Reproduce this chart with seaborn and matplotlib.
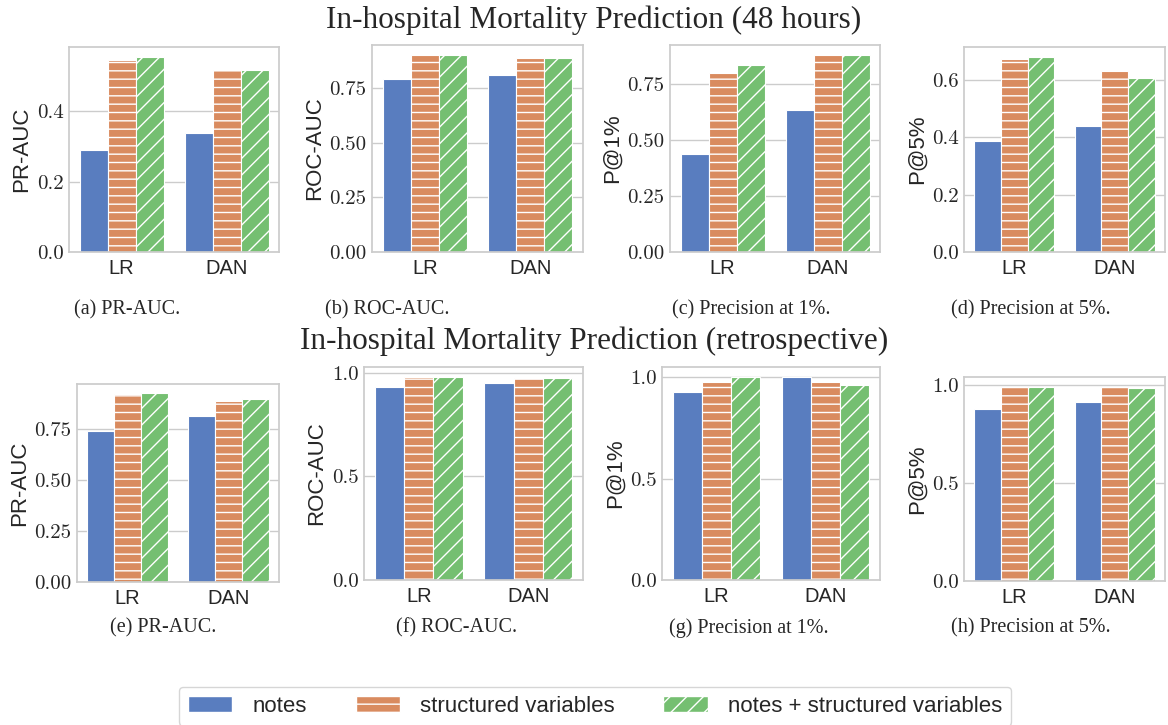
import numpy as np
import pandas as pd
import matplotlib
matplotlib.use('Agg')
import matplotlib.pyplot as plt
from matplotlib.patches import Patch
import seaborn as sns

models = ['LR', 'DAN']
feature_sets = ['notes', 'structured variables', 'notes + structured variables']
hatches = ['', '--', '//']

# values per feature set: [LR, DAN]
pr_auc_48 = [[0.289, 0.337], [0.545, 0.516], [0.555, 0.516]]
roc_auc_48 = [[0.790, 0.808], [0.902, 0.887], [0.902, 0.887]]
p1_48 = [[0.437, 0.632], [0.799, 0.878], [0.833, 0.878]]
p5_48 = [[0.388, 0.440], [0.673, 0.633], [0.682, 0.608]]

pr_auc_retro = [[0.743, 0.814], [0.921, 0.890], [0.926, 0.901]]
roc_auc_retro = [[0.932, 0.950], [0.979, 0.973], [0.979, 0.974]]
p1_retro = [[0.929, 1.000], [0.975, 0.975], [1.000, 0.959]]
p5_retro = [[0.878, 0.915], [0.991, 0.988], [0.991, 0.985]]

row_titles = ['In-hospital Mortality Prediction (48 hours)',
              'In-hospital Mortality Prediction (retrospective)']
ylabels = ['PR-AUC', 'ROC-AUC', 'P@1%', 'P@5%']
captions = ['(a) PR-AUC.', '(b) ROC-AUC.', '(c) Precision at 1%.', '(d) Precision at 5%.',
            '(e) PR-AUC.', '(f) ROC-AUC.', '(g) Precision at 1%.', '(h) Precision at 5%.']
yticks = [[0, 0.2, 0.4], [0, 0.25, 0.5, 0.75], [0, 0.25, 0.5, 0.75], [0, 0.2, 0.4, 0.6],
          [0, 0.25, 0.5, 0.75], [0, 0.5, 1.0], [0, 0.5, 1.0], [0, 0.5, 1.0]]
panels = [pr_auc_48, roc_auc_48, p1_48, p5_48, pr_auc_retro, roc_auc_retro, p1_retro, p5_retro]

sns.set_theme(style='whitegrid', palette='muted')
plt.rcParams['font.family'] = ['Liberation Sans', 'DejaVu Sans']

W, H = 1168, 725
fig = plt.figure(figsize=(W / 100, H / 100), dpi=100)

# axes boxes in pixels: left, top, right, bottom
boxes = [(69, 47, 279, 252), (372, 45, 583, 252), (670, 45, 880, 252), (964, 47, 1165, 252),
         (77, 384, 279, 582), (364, 367, 583, 580), (662, 367, 880, 580), (964, 377, 1165, 581)]
caption_x = [127, 387, 751, 1031, 163, 457, 749, 1031]
caption_y = [310, 310, 310, 310, 628, 628, 628, 628]

colors = [sns.desaturate(c, 0.75) for c in sns.color_palette('muted', 3)]

for i, (vals, box) in enumerate(zip(panels, boxes)):
    l, t, r, b = box
    ax = fig.add_axes([l / W, 1 - b / H, (r - l) / W, (b - t) / H])
    rows = []
    for fs, v in zip(feature_sets, vals):
        for m, x in zip(models, v):
            rows.append({'model': m, 'features': fs, 'value': x})
    df = pd.DataFrame(rows)
    sns.barplot(data=df, x='model', y='value', hue='features', hue_order=feature_sets,
                order=models, palette='muted', ax=ax, legend=False,
                edgecolor='white', linewidth=0.8)
    for cont, h in zip(ax.containers, hatches):
        for p in cont:
            p.set_hatch(h)
    ax.set_xlabel('')
    ax.set_ylabel(ylabels[i % 4], fontsize=16, labelpad=3)
    ax.set_yticks(yticks[i])
    ax.tick_params(axis='both', length=0)
    ax.tick_params(axis='x', labelsize=14.5, pad=5)
    ax.tick_params(axis='y', pad=4)
    for lab in ax.get_yticklabels():
        lab.set_fontfamily('cmr10')
        lab.set_fontsize(15)
    fig.text(caption_x[i] / W, 1 - caption_y[i] / H, captions[i], ha='center', va='center',
             fontsize=14.5, family='Liberation Serif')

fig.text(594 / W, 1 - 20 / H, row_titles[0], ha='center', va='center',
         fontsize=22.5, family='Liberation Serif')
fig.text(594 / W, 1 - 341 / H, row_titles[1], ha='center', va='center',
         fontsize=22.5, family='Liberation Serif')

handles = [Patch(facecolor=c, edgecolor='white', hatch=h) for c, h in zip(colors, hatches)]
fig.legend(handles, feature_sets, loc='upper center', bbox_to_anchor=(595 / W, 1 - 687 / H),
           ncol=3, fontsize=16, frameon=True, handlelength=2.0, handleheight=0.7,
           handletextpad=0.9, columnspacing=2.2, borderaxespad=0)

fig.savefig('out.png', dpi=100)
